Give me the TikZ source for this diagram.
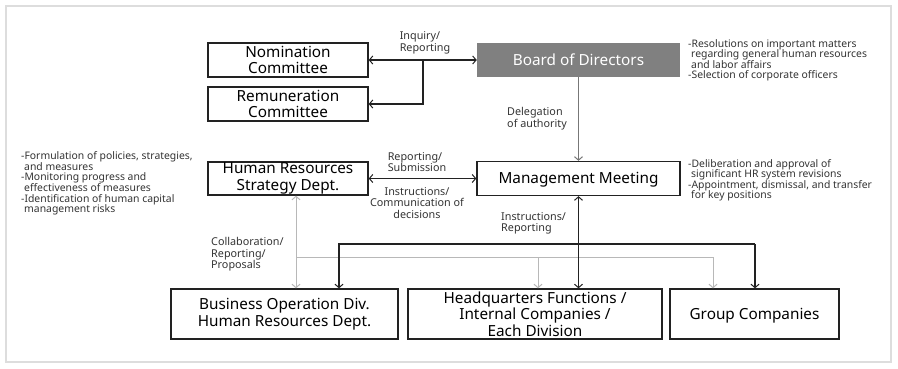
\documentclass[tikz,border=0pt]{standalone}
\usepackage{fontspec}
\setmainfont{Noto Sans}
\usetikzlibrary{arrows.meta}
\definecolor{boxline}{HTML}{222222}
\definecolor{boardfill}{HTML}{808080}
\definecolor{lightline}{HTML}{B8B8B8}
\definecolor{midline}{HTML}{777777}
\definecolor{txt}{HTML}{333333}
\definecolor{frame}{HTML}{DDDDDD}
\tikzset{
  box/.style={draw=boxline, line width=1.3pt, fill=white, align=center, inner sep=0pt,
    font=\fontsize{15.3}{16.5}\selectfont, text=black},
  oneline/.style={text depth=0pt, text height=10.9pt},
  boardbox/.style={fill=boardfill, draw=none, align=center, inner sep=0pt,
    font=\fontsize{15.3}{16.5}\selectfont, text=white},
  tipa/.tip={Straight Barb[length=3.5pt,width=8pt,line width=1pt]},
  conn/.style={draw=boxline, line width=1.3pt},
  lconn/.style={draw=lightline, line width=1pt},
  mconn/.style={draw=midline, line width=1pt},
  lbl/.style={inner sep=0pt, text=txt, font=\fontsize{10.8}{11.6}\selectfont},
  note/.style={inner sep=0pt, text=txt, align=left, anchor=north west, font=\fontsize{10.4}{10.6}\selectfont},
}
\begin{document}
\begin{tikzpicture}[x=1pt,y=-1pt]
\useasboundingbox (0,0) rectangle (898,368);
\draw[frame, line width=1.2pt] (6,6) rectangle (891,362);

% boxes
\node[box, minimum width=160pt, minimum height=34pt] (nom) at (288,60) {Nomination\\Committee};
\node[box, minimum width=160pt, minimum height=34pt] (rem) at (288,104) {Remuneration\\Committee};
\node[boardbox, oneline, minimum width=203pt, minimum height=34pt] (bod) at (578.5,60) {Board of Directors};
\node[box, minimum width=160pt, minimum height=33pt] (hr) at (288,178.5) {Human Resources\\Strategy Dept.};
\node[box, oneline, minimum width=203pt, minimum height=34pt] (mm) at (578.5,178.5) {Management Meeting};
\node[box, minimum width=227pt, minimum height=50pt] (bus) at (284.5,314) {Business Operation Div.\\Human Resources Dept.};
\node[box, minimum width=254pt, minimum height=50pt] (hq) at (535,314) {Headquarters Functions /\\Internal Companies /\\Each Division};
\node[box, oneline, minimum width=169pt, minimum height=50pt] (grp) at (754.5,314) {Group Companies};

% coordinates
\coordinate (j1) at (423,60);
\coordinate (g1) at (296,257);
\coordinate (g2) at (713,257);
\coordinate (g3) at (538,257);
\coordinate (b1) at (339,244);
\coordinate (b2) at (755,244);

% top connectors
\draw[conn, tipa-tipa] (nom.east) -- (bod.west);
\draw[conn, -tipa] (j1) |- (rem.east);
\draw[mconn, -tipa] (bod.south) -- (mm.north);
\draw[conn, tipa-tipa] (hr.east) -- (hr.east -| mm.west);

% gray connectors
\draw[lconn, tipa-tipa] (hr.south -| g1) -- (bus.north -| g1);
\draw[lconn, -tipa] (g1) -- (g2) -- (g2 |- grp.north);
\draw[lconn, -tipa] (g3) -- (g3 |- hq.north);

% black connectors
\draw[conn, -tipa] (b2) -- (b1) -- (b1 |- bus.north);
\draw[conn, -tipa] (b2) -- (b2 |- grp.north);
\draw[conn, tipa-tipa] (mm.south) -- (mm.south |- hq.north);

% labels
\node[lbl, align=left] (l1) at (425,43) {Inquiry/\\Reporting};
\node[lbl, align=left] (l2) at (537,118.5) {Delegation\\of authority};
\node[lbl, align=left] (l3) at (417,162) {Reporting/\\Submission};
\node[lbl, align=center] (l4) at (417,203) {Instructions/\\Communication of\\decisions};
\node[lbl, align=left, anchor=north west] (l5) at (501,212) {Instructions/\\Reporting};
\node[lbl, align=left, anchor=north west] (l6) at (211,237) {Collaboration/\\Reporting/\\Proposals};

% notes
\node[note] (n1) at (688,39) {-Resolutions on important matters\\\hspace{3pt}regarding general human resources\\\hspace{3pt}and labor affairs\\-Selection of corporate officers};
\node[note] (n2) at (688,159) {-Deliberation and approval of\\\hspace{3pt}significant HR system revisions\\-Appointment, dismissal, and transfer\\\hspace{3pt}for key positions};
\node[note] (n3) at (21,151.5) {-Formulation of policies, strategies,\\\hspace{3pt}and measures\\-Monitoring progress and\\\hspace{3pt}effectiveness of measures\\-Identification of human capital\\\hspace{3pt}management risks};
\end{tikzpicture}
\end{document}
